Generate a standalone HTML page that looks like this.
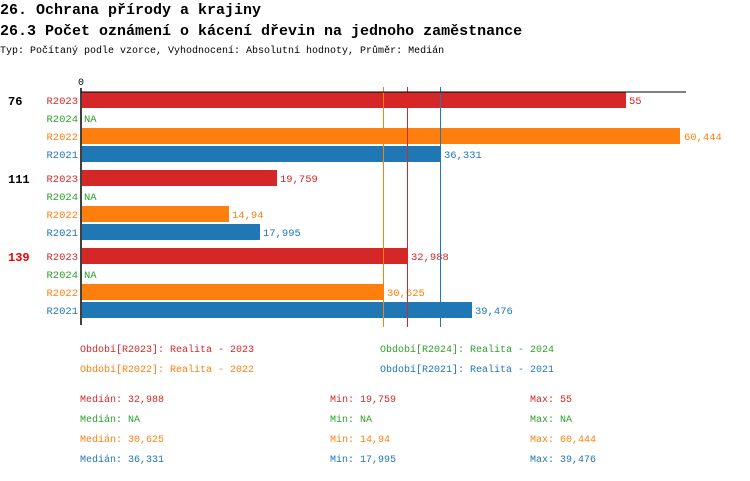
<!DOCTYPE html>
<html><head><meta charset="utf-8"><style>
body{margin:0;background:#fff;width:750px;height:476px;overflow:hidden}
svg text{font-family:"Liberation Mono",monospace}
</style></head><body>
<svg width="750" height="476" xmlns="http://www.w3.org/2000/svg">
<text x="0" y="14" font-size="15" font-weight="bold">26. Ochrana přírody a krajiny</text>
<text x="0" y="35" font-size="15" font-weight="bold">26.3 Počet oznámení o kácení dřevin na jednoho zaměstnance</text>
<text x="0" y="53" font-size="10">Typ: Počítaný podle vzorce, Vyhodnocení: Absolutní hodnoty, Průměr: Medián</text>
<text x="78" y="85" font-size="10">0</text>
<g font-size="10.5">
<!-- group 1 -->
<text x="8" y="105" font-size="12" font-weight="bold">76</text>
<rect x="82" y="92" width="544" height="16" fill="#d62728"/>
<text x="78" y="104" text-anchor="end" fill="#d62728">R2023</text><text x="629" y="104" fill="#d62728">55</text>
<text x="78" y="122" text-anchor="end" fill="#2ca02c">R2024</text><text x="84" y="122" fill="#2ca02c">NA</text>
<rect x="82" y="128" width="598" height="16" fill="#ff7f0e"/>
<text x="78" y="140" text-anchor="end" fill="#ff7f0e">R2022</text><text x="684" y="140" fill="#ff7f0e">60,444</text>
<rect x="82" y="146" width="359" height="16" fill="#1f77b4"/>
<text x="78" y="158" text-anchor="end" fill="#1f77b4">R2021</text><text x="444" y="158" fill="#1f77b4">36,331</text>
<!-- group 2 -->
<text x="8" y="183" font-size="12" font-weight="bold">111</text>
<rect x="82" y="170" width="195" height="16" fill="#d62728"/>
<text x="78" y="182" text-anchor="end" fill="#d62728">R2023</text><text x="280" y="182" fill="#d62728">19,759</text>
<text x="78" y="200" text-anchor="end" fill="#2ca02c">R2024</text><text x="84" y="200" fill="#2ca02c">NA</text>
<rect x="82" y="206" width="147" height="16" fill="#ff7f0e"/>
<text x="78" y="218" text-anchor="end" fill="#ff7f0e">R2022</text><text x="232" y="218" fill="#ff7f0e">14,94</text>
<rect x="82" y="224" width="178" height="16" fill="#1f77b4"/>
<text x="78" y="236" text-anchor="end" fill="#1f77b4">R2021</text><text x="263" y="236" fill="#1f77b4">17,995</text>
<!-- group 3 -->
<text x="8" y="261" font-size="12" font-weight="bold" fill="#e00">139</text>
<rect x="82" y="248" width="326" height="16" fill="#d62728"/>
<text x="78" y="260" text-anchor="end" fill="#d62728">R2023</text><text x="411" y="260" fill="#d62728">32,988</text>
<text x="78" y="278" text-anchor="end" fill="#2ca02c">R2024</text><text x="84" y="278" fill="#2ca02c">NA</text>
<rect x="82" y="284" width="301" height="16" fill="#ff7f0e"/>
<text x="78" y="296" text-anchor="end" fill="#ff7f0e">R2022</text><text x="387" y="296" fill="#ff7f0e">30,625</text>
<rect x="82" y="302" width="390" height="16" fill="#1f77b4"/>
<text x="78" y="314" text-anchor="end" fill="#1f77b4">R2021</text><text x="475" y="314" fill="#1f77b4">39,476</text>
</g>
<line x1="383.5" y1="87" x2="383.5" y2="327" stroke="#ff7f0e" stroke-width="1"/>
<line x1="407.5" y1="87" x2="407.5" y2="327" stroke="#d62728" stroke-width="1"/>
<line x1="440.5" y1="87" x2="440.5" y2="327" stroke="#1f77b4" stroke-width="1"/>
<line x1="81" y1="92" x2="686" y2="92" stroke="#000" stroke-width="1"/>
<line x1="81" y1="88" x2="81" y2="325" stroke="#000" stroke-width="1.5"/>
<g font-size="10">
<text x="80" y="352" fill="#d62728">Období[R2023]: Realita - 2023</text>
<text x="380" y="352" fill="#2ca02c">Období[R2024]: Realita - 2024</text>
<text x="80" y="372" fill="#ff7f0e">Období[R2022]: Realita - 2022</text>
<text x="380" y="372" fill="#1f77b4">Období[R2021]: Realita - 2021</text>
<text x="80" y="402" fill="#d62728">Medián: 32,988</text><text x="330" y="402" fill="#d62728">Min: 19,759</text><text x="530" y="402" fill="#d62728">Max: 55</text>
<text x="80" y="422" fill="#2ca02c">Medián: NA</text><text x="330" y="422" fill="#2ca02c">Min: NA</text><text x="530" y="422" fill="#2ca02c">Max: NA</text>
<text x="80" y="442" fill="#ff7f0e">Medián: 30,625</text><text x="330" y="442" fill="#ff7f0e">Min: 14,94</text><text x="530" y="442" fill="#ff7f0e">Max: 60,444</text>
<text x="80" y="462" fill="#1f77b4">Medián: 36,331</text><text x="330" y="462" fill="#1f77b4">Min: 17,995</text><text x="530" y="462" fill="#1f77b4">Max: 39,476</text>
</g>
</svg>
</body></html>
